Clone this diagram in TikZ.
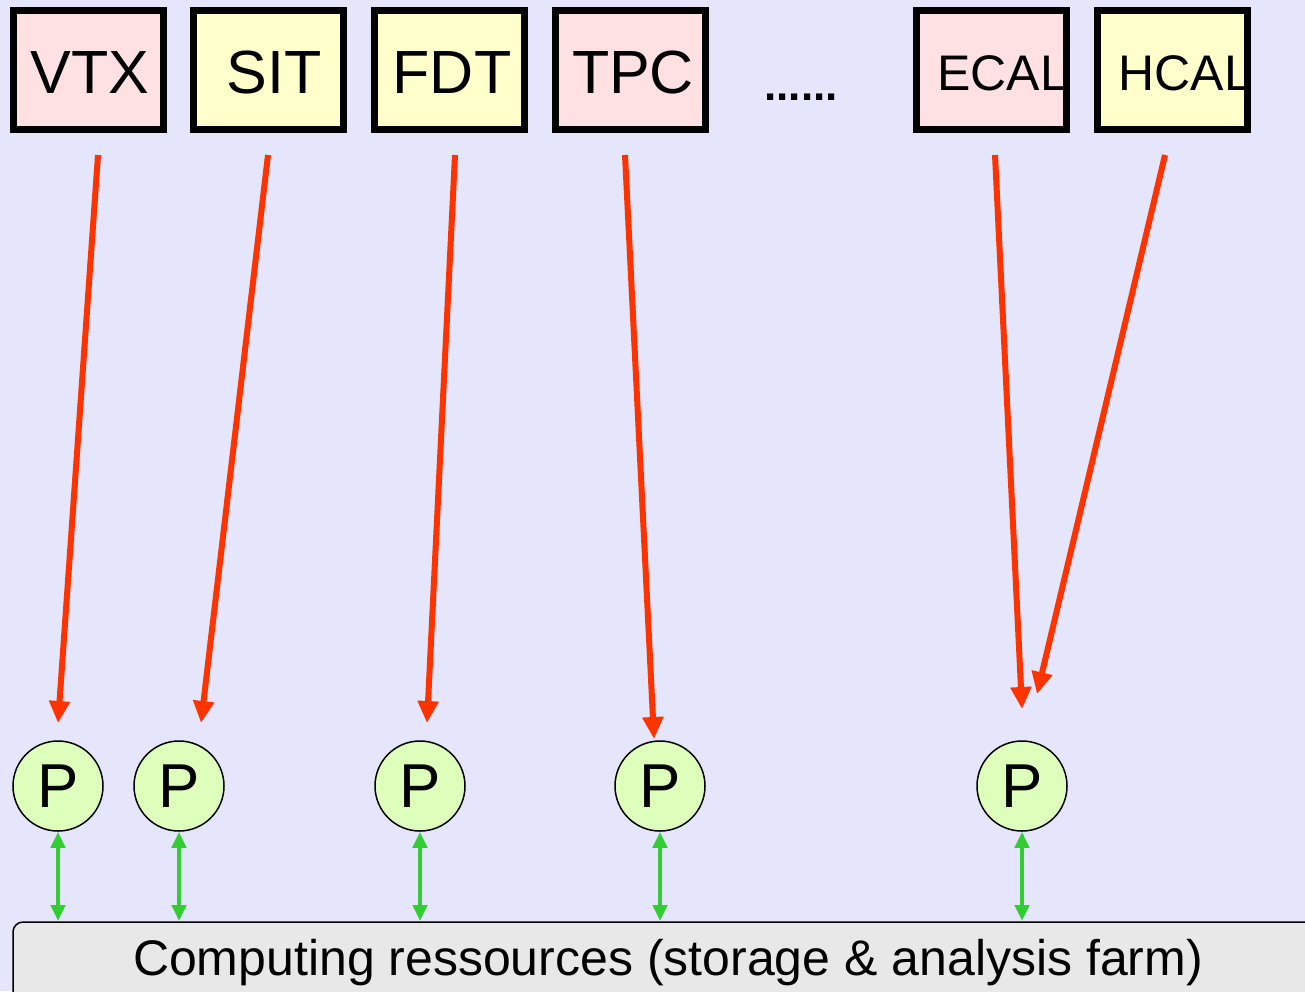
\documentclass[tikz,border=0pt]{standalone}
\usepackage{fontspec}
\setmainfont{Liberation Sans}
\usetikzlibrary{arrows.meta}
\definecolor{bgc}{HTML}{E5E5FB}
\definecolor{pinkc}{HTML}{FFE0E3}
\definecolor{yelc}{HTML}{FFFFCC}
\definecolor{pc}{HTML}{DDFFBB}
\definecolor{redc}{HTML}{FF3300}
\definecolor{grnc}{HTML}{33CC33}
\definecolor{farmc}{HTML}{E8E8E8}
\begin{document}
\begin{tikzpicture}[x=1pt,y=-1pt,
  det/.style={draw=black,line width=7pt,minimum width=150pt,minimum height=119pt,inner sep=0pt,anchor=north west},
  detlbl/.style={font=\fontsize{61}{61}\selectfont,anchor=base},
  detlbls/.style={font=\fontsize{50}{50}\selectfont,anchor=base west},
  proc/.style={circle,draw=black,line width=1.5pt,fill=pc,minimum size=90pt,inner sep=0pt,font=\fontsize{62}{62}\selectfont},
  feed/.style={draw=redc,line width=6pt,-{Triangle[length=22pt,width=20pt]}},
  link/.style={draw=grnc,line width=4pt,{Triangle[length=16pt,width=14pt]}-{Triangle[length=16pt,width=14pt]}}]
\useasboundingbox (0,0) rectangle (1305,991);
\fill[bgc] (0,0) rectangle (1305,991);
% detector boxes
\node[det,fill=pinkc] (vtx) at (10,7) {};
\node[det,fill=yelc] (sit) at (190,7) {};
\node[det,fill=yelc] (fdt) at (371,7) {};
\node[det,fill=pinkc] (tpc) at (552,7) {};
\node[det,fill=pinkc] (ecal) at (913,7) {};
\node[det,fill=yelc] (hcal) at (1094,7) {};
\node[detlbl] (tvtx) at (90,93) {VTX};
\node[detlbl] (tsit) at (274,93) {SIT};
\node[detlbl] (tfdt) at (452,93) {FDT};
\node[detlbl] (ttpc) at (633,93) {TPC};
\node[detlbls] (tecal) at (934,90) {ECAL};
\node[detlbls] (thcal) at (1115,90) {HCAL};
\node[font=\fontsize{44}{44}\selectfont\bfseries,anchor=base] (dots) at (801,100) {......};
% processors
\node[proc] (p1) at (58,786) {P};
\node[proc] (p2) at (179,786) {P};
\node[proc] (p3) at (420,786) {P};
\node[proc] (p4) at (660,786) {P};
\node[proc] (p5) at (1022,786) {P};
% farm
\draw[fill=farmc,line width=1.5pt,rounded corners=10pt] (13,922) rectangle (1330,1010);
\node[font=\fontsize{50}{50}\selectfont,anchor=base] (farm) at (668,975) {Computing ressources (storage \& analysis farm)};
\coordinate (f1) at (58,921);
\coordinate (f2) at (179,921);
\coordinate (f3) at (420,921);
\coordinate (f4) at (660,921);
\coordinate (f5) at (1022,921);
% feed arrows
\coordinate (s1) at (98,155);  \coordinate (e1) at (58,723);
\coordinate (s2) at (268,155); \coordinate (e2) at (201,723);
\coordinate (s3) at (455,155); \coordinate (e3) at (427,723);
\coordinate (s4) at (625,155); \coordinate (e4) at (654,739);
\coordinate (s5) at (995,155); \coordinate (e5) at (1022,709);
\coordinate (s6) at (1165,155); \coordinate (e6) at (1037,694);
\draw[feed] (s1) -- (e1);
\draw[feed] (s2) -- (e2);
\draw[feed] (s3) -- (e3);
\draw[feed] (s4) -- (e4);
\draw[feed] (s5) -- (e5);
\draw[feed] (s6) -- (e6);
% links
\draw[link] (p1.south) -- (f1);
\draw[link] (p2.south) -- (f2);
\draw[link] (p3.south) -- (f3);
\draw[link] (p4.south) -- (f4);
\draw[link] (p5.south) -- (f5);
\end{tikzpicture}
\end{document}
